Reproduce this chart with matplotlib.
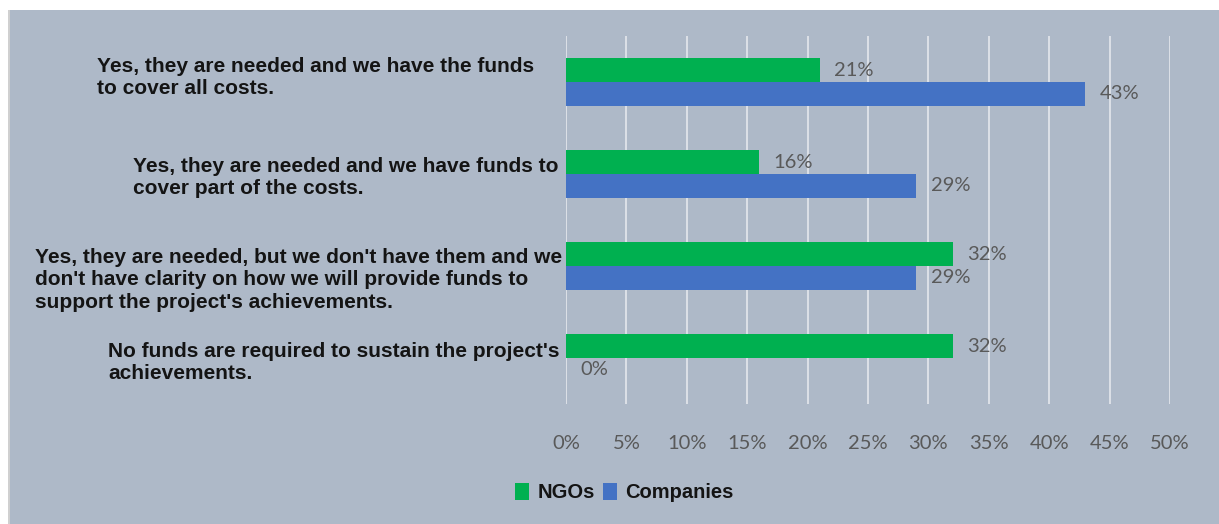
import matplotlib
matplotlib.use("Agg")
import matplotlib.pyplot as plt
from matplotlib.patches import Rectangle, Patch
from matplotlib.ticker import MultipleLocator, PercentFormatter

# Survey answers and shares (%)
categories = [
    "Yes, they are needed and we have the funds\nto cover all costs.",
    "Yes, they are needed and we have funds to\ncover part of the costs.",
    "Yes, they are needed, but we don't have them and we\ndon't have clarity on how we will provide funds to\nsupport the project's achievements.",
    "No funds are required to sustain the project's\nachievements.",
]
ngos = [21, 16, 32, 32]
companies = [43, 29, 29, 0]
series_names = ["NGOs", "Companies"]

BG = "#aeb9c8"
GREEN = "#00b050"
BLUE = "#4472c4"
GRID = "#dde1e7"
VALUE_COLOR = "#595959"
TEXT_COLOR = "#141414"

W, H = 1219, 524
fig = plt.figure(figsize=(W / 100, H / 100), dpi=100, facecolor="white")

# grey panel with a thin white margin on the top and left
fig.patches.append(Rectangle((8 / W, 0), 1 - 8 / W, 1 - 10 / H,
                             transform=fig.transFigure, facecolor=BG,
                             edgecolor="none", zorder=-10))
fig.patches.append(Rectangle((8 / W, 0), 1.5 / W, 1 - 10 / H,
                             transform=fig.transFigure, facecolor="#d0d0d0",
                             edgecolor="none", zorder=-9))

ax = fig.add_axes([566 / W, 1 - 404 / H, (1170 - 566) / W, (404 - 36) / H])
ax.set_facecolor("none")

n = len(categories)
ypos = list(range(n))
bh = 0.26
ax.barh([y - bh / 2 for y in ypos], ngos, height=bh, color=GREEN, zorder=3)
ax.barh([y + bh / 2 for y in ypos], companies, height=bh, color=BLUE, zorder=3)

# value labels
for y, v in zip(ypos, ngos):
    ax.text(v + 1.2, y - bh / 2, f"{v}%", va="center", ha="left",
            fontsize=14.5, color=VALUE_COLOR, family="Lato", zorder=4)
for y, v in zip(ypos, companies):
    ax.text(v + 1.2, y + bh / 2, f"{v}%", va="center", ha="left",
            fontsize=14.5, color=VALUE_COLOR, family="Lato", zorder=4)

ax.set_xlim(0, 50)
ax.set_ylim(n - 0.5, -0.5)
ax.xaxis.set_major_locator(MultipleLocator(5))
ax.xaxis.set_major_formatter(PercentFormatter(decimals=0))
ax.grid(axis="x", color=GRID, linewidth=1.4, zorder=0)
ax.set_yticks([])
for s in ax.spines.values():
    s.set_visible(False)
ax.tick_params(axis="x", length=0, pad=22, labelsize=14.5, labelcolor=VALUE_COLOR)
for lab in ax.get_xticklabels():
    lab.set_family("Lato")

# category labels, left-aligned blocks ending just left of the axis
label_shift = [-0.05, 0.04, 0.15, 0.05]
label_right = [-2.6, -0.6, -0.3, -0.5]
for y, txt, dy, xr in zip(ypos, categories, label_shift, label_right):
    ax.text(xr, y + dy, txt, ha="right", va="center", multialignment="left",
            fontsize=15, fontweight="bold", family="Liberation Sans",
            color=TEXT_COLOR, linespacing=1.22)

handles = [Patch(facecolor=GREEN), Patch(facecolor=BLUE)]
leg = fig.legend(handles, series_names, loc="center", bbox_to_anchor=(0.512, 0.06),
                 ncol=2, frameon=False, handlelength=0.7, handleheight=0.9,
                 handletextpad=0.4, columnspacing=0.4,
                 prop={"family": "Liberation Sans", "weight": "bold", "size": 14.5})
for t in leg.get_texts():
    t.set_color(TEXT_COLOR)

fig.savefig("out.png", dpi=100, facecolor="white")
